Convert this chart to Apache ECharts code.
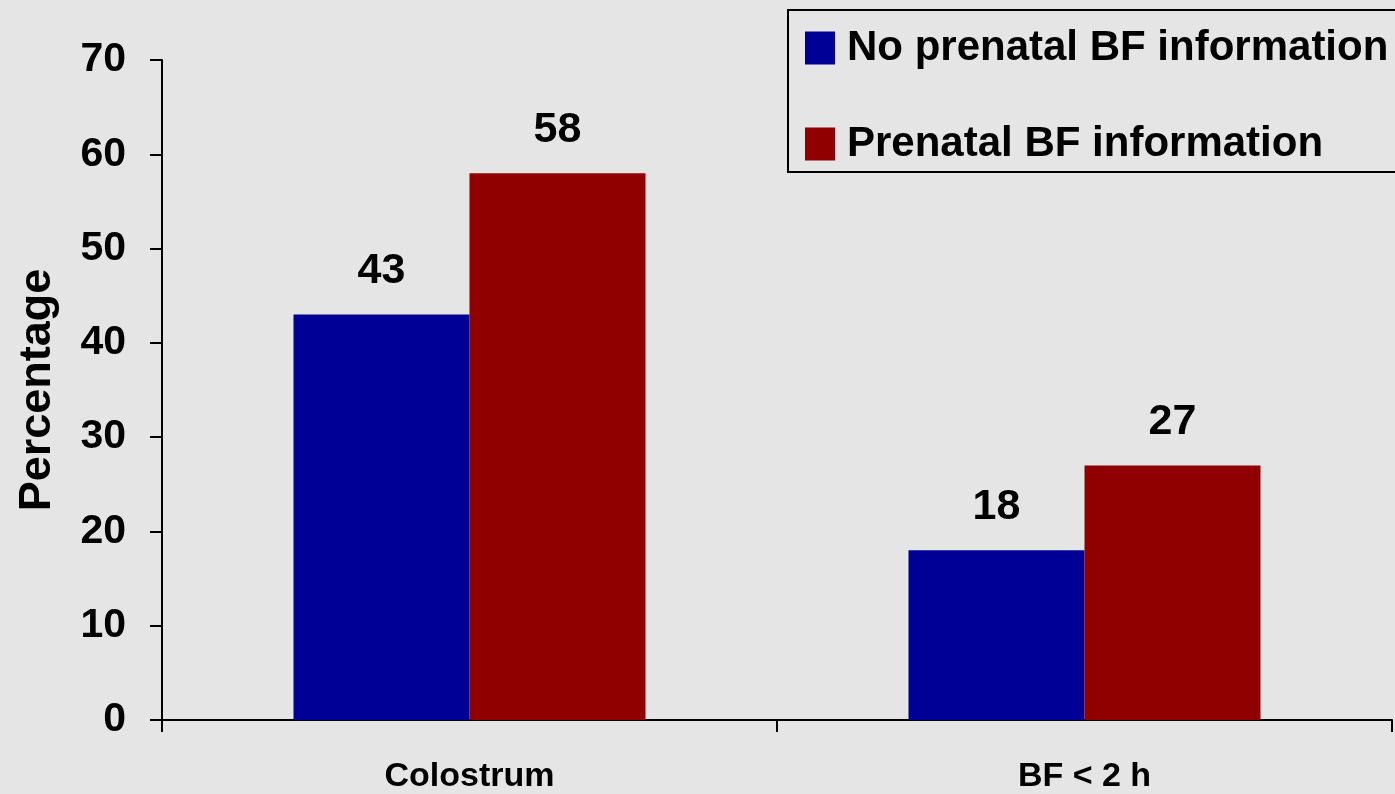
<!DOCTYPE html>
<html>
<head>
<meta charset="utf-8">
<script src="https://cdn.jsdelivr.net/npm/echarts@6/dist/echarts.min.js"></script>
<style>
html,body{margin:0;padding:0;background:#e4e4e4;}
#chart{width:1395px;height:794px;}
</style>
</head>
<body>
<div id="chart"></div>
<script>
var categories = ['Colostrum', 'BF < 2 h'];
var seriesNames = ['No prenatal BF information', 'Prenatal BF information'];
var noInfo = [43, 18];
var withInfo = [58, 27];
var yTicks = [0, 10, 20, 30, 40, 50, 60, 70];

var sansFont = '"Liberation Sans", Arial, sans-serif';

var chart = echarts.init(document.getElementById('chart'));
chart.setOption({
  backgroundColor: '#e5e5e5',
  animation: false,
  grid: {left: 162, right: 3, top: 60, bottom: 73, containLabel: false},
  legend: {
    data: seriesNames,
    orient: 'vertical',
    left: 788,
    top: 10,
    padding: [17, 20, 7, 17],
    itemGap: 54,
    itemWidth: 30,
    itemHeight: 33,
    borderColor: '#000',
    borderWidth: 2,
    icon: 'rect',
    textStyle: {fontFamily: sansFont, fontWeight: 'bold', fontSize: 42, color: '#000', lineHeight: 40, padding: [0, 0, 0, 7]}
  },
  xAxis: {
    type: 'category',
    data: categories,
    boundaryGap: true,
    axisLine: {lineStyle: {color: '#000', width: 2}},
    axisTick: {show: true, length: 12, alignWithLabel: false, lineStyle: {color: '#000', width: 2}},
    axisLabel: {fontFamily: sansFont, fontWeight: 'bold', fontSize: 34, color: '#000', margin: 40}
  },
  yAxis: {
    type: 'value',
    min: yTicks[0],
    max: yTicks[yTicks.length - 1],
    interval: 10,
    name: 'Percentage',
    nameLocation: 'middle',
    nameGap: 102,
    nameTextStyle: {fontFamily: sansFont, fontWeight: 'bold', fontSize: 45, color: '#000'},
    splitLine: {show: false},
    axisLine: {show: true, lineStyle: {color: '#000', width: 2}},
    axisTick: {show: true, length: 12, lineStyle: {color: '#000', width: 2}},
    axisLabel: {fontFamily: sansFont, fontWeight: 'bold', fontSize: 41, color: '#000', margin: 36}
  },
  series: [
    {
      name: seriesNames[0],
      type: 'bar',
      data: noInfo,
      barWidth: 176,
      barGap: '0%',
      itemStyle: {color: '#000096'},
      label: {show: true, position: 'top', distance: 22, fontFamily: sansFont, fontWeight: 'bold', fontSize: 43, color: '#000'}
    },
    {
      name: seriesNames[1],
      type: 'bar',
      data: withInfo,
      barWidth: 176,
      barGap: '0%',
      itemStyle: {color: '#910000'},
      label: {show: true, position: 'top', distance: 22, fontFamily: sansFont, fontWeight: 'bold', fontSize: 43, color: '#000'}
    }
  ]
});
</script>
</body>
</html>
